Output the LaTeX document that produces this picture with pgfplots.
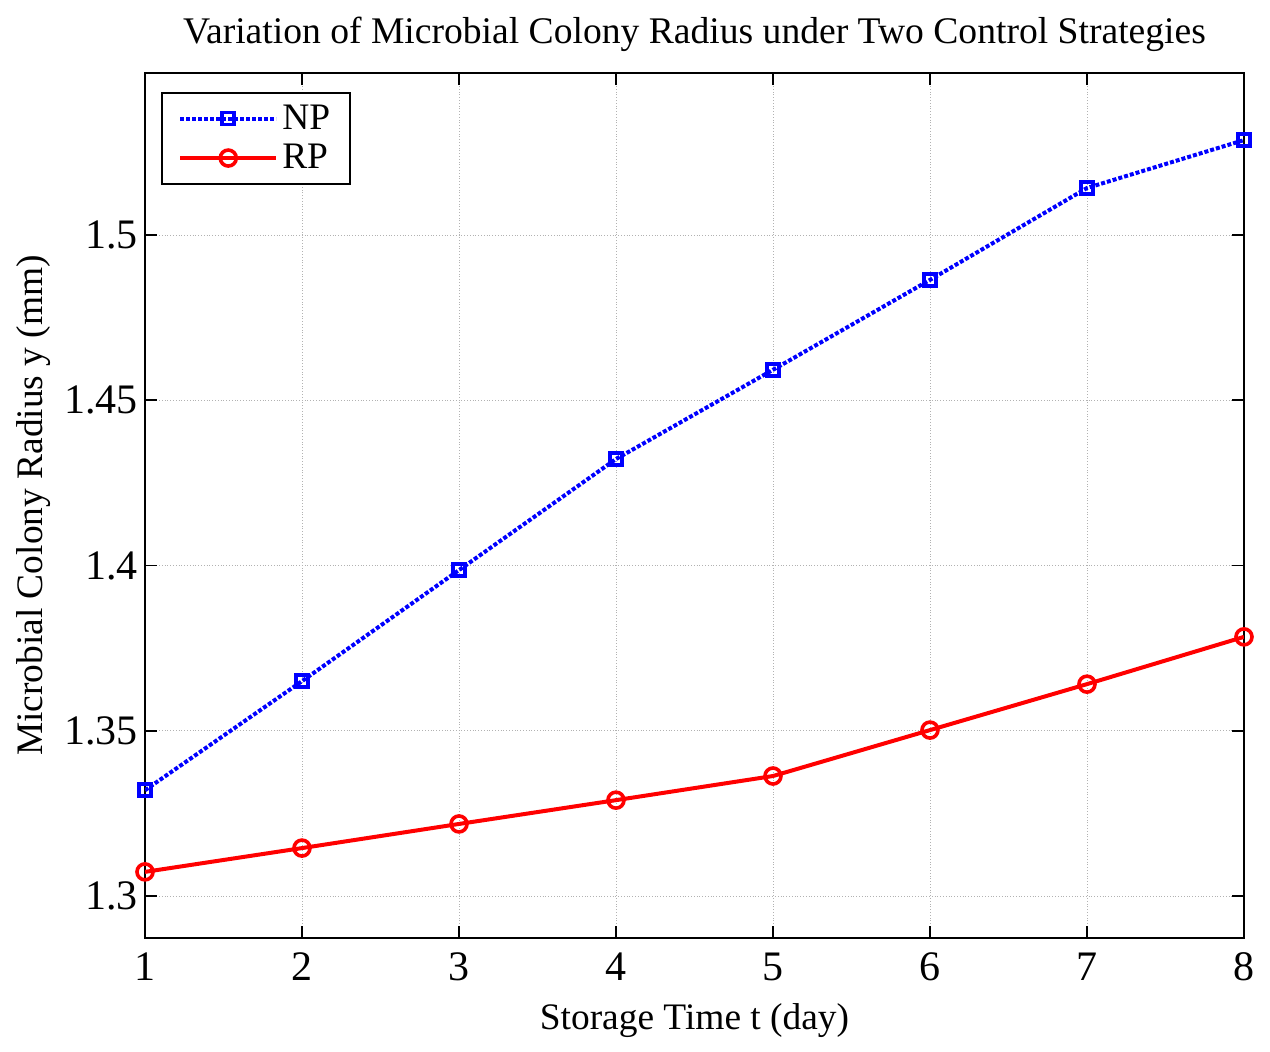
\documentclass[border=0pt]{standalone}
\usepackage{fontspec}
\setmainfont{Liberation Serif}
\usepackage{pgfplots}
\pgfplotsset{compat=1.18}
\begin{document}
\begin{tikzpicture}
\path[use as bounding box] (-72.5pt,-57pt) rectangle (562.5pt,469pt);
\begin{axis}[
  at={(0pt,0pt)}, anchor=south west,
  scale only axis, width=549.5pt, height=432.5pt,
  xmin=1, xmax=8, ymin=1.2873, ymax=1.549,
  xtick={1,...,8},
  ytick={1.3,1.35,1.4,1.45,1.5},
  yticklabels={1.3,1.35,1.4,1.45,1.5},
  /pgf/number format/assume math mode=true,
  tick label style={font=\fontsize{21}{24}\selectfont},
  xticklabel style={yshift=-4pt},
  label style={font=\fontsize{18.7}{22}\selectfont},
  title style={font=\fontsize{18.8}{22}\selectfont, yshift=1pt},
  title={Variation of Microbial Colony Radius under Two Control Strategies},
  xlabel={Storage Time t (day)},
  ylabel={Microbial Colony Radius y (mm)},
  xlabel style={yshift=-4pt},
  ylabel style={yshift=0pt},
  grid=major,
  major grid style={gray!60, densely dotted, line width=0.4pt},
  axis line style={line width=0.8pt},
  tick style={black, line width=0.8pt},
  major tick length=6pt,
  tick align=inside,
  xtick pos=both, ytick pos=both,
  legend style={at={(0.015,0.978)}, anchor=north west, font=\fontsize{18.7}{22}\selectfont, draw=black, line width=0.8pt, inner xsep=8pt, inner ysep=4pt, row sep=2pt},
  legend cell align=left,
  legend image code/.code={\draw[#1, mark repeat=2, mark phase=2] plot coordinates {(0pt,0pt) (24pt,0pt) (48pt,0pt)};},
]
\addplot[blue, densely dotted, line width=2pt, mark=square, mark size=3pt, mark options={solid, line width=1.8pt}]
coordinates {(1,1.332) (2,1.365) (3,1.3986) (4,1.4322) (5,1.4592) (6,1.4864) (7,1.5142) (8,1.5287)};
\addlegendentry{NP}
\addplot[red, solid, line width=2pt, mark=o, mark size=4pt, mark options={solid, line width=1.8pt}]
coordinates {(1,1.3073) (2,1.3145) (3,1.3218) (4,1.329) (5,1.3363) (6,1.3502) (7,1.3641) (8,1.3784)};
\addlegendentry{RP}
\end{axis}
\end{tikzpicture}
\end{document}
